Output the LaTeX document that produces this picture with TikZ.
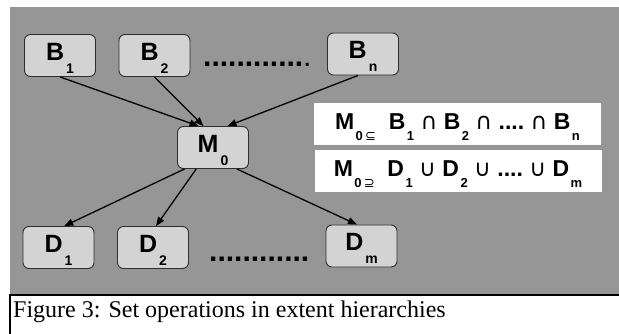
\documentclass[tikz,border=0pt]{standalone}
\usepackage{fontspec}
\setmainfont{Liberation Serif}
\setsansfont{Liberation Sans}
\newfontfamily\symfont{DejaVu Sans}
\usetikzlibrary{arrows.meta}
\definecolor{cpanel}{HTML}{969696}
\definecolor{cbox}{HTML}{D3D3D3}
\definecolor{cedge}{HTML}{2E2E2E}
\newcommand\lowsub[1]{\kern2pt\raisebox{-13pt}{\fontsize{14}{14}\selectfont #1}}
\newcommand\fsub[1]{\kern1.5pt\raisebox{-10.5pt}{\fontsize{13}{13}\selectfont #1}}
\newcommand\symop[1]{{\symfont\mdseries #1}}
\tikzset{
  every picture/.style={font=\sffamily\bfseries},
  set/.style={draw=cedge, fill=cbox, rounded corners=6pt, line width=0.9pt, minimum width=71pt, minimum height=42pt, inner sep=0pt, text height=18pt, text depth=8pt, font=\sffamily\bfseries\fontsize{25}{25}\selectfont},
  rel/.style={fill=white, minimum width=287pt, minimum height=42pt, inner sep=0pt, text height=16.5pt, text depth=4.5pt, font=\sffamily\bfseries\fontsize{23}{23}\selectfont},
  arrow/.style={-{Triangle[length=9pt,width=7pt]}, line width=1.3pt},
  dots/.style={font=\sffamily\bfseries\fontsize{30}{30}\selectfont, inner sep=0pt},
}

\begin{document}
\begin{tikzpicture}[x=1pt, y=-1pt]
  \useasboundingbox (0,0) rectangle (619,334);
  \fill[cpanel] (10,7) rectangle (619,295);
  % base extents, the merged extent and the derived extents
  \node[set] (B1) at (60,55.5) {B\lowsub{1}};
  \node[set] (B2) at (154.5,55.5) {B\lowsub{2}};
  \node[set] (Bn) at (363,54) {B\lowsub{n}};
  \node[dots, anchor=base west] (bdots) at (203,67) {............{\mdseries .}};
  \node[set] (M0) at (213,147.5) {M\lowsub{0}};
  \node[set] (D1) at (58.5,247.5) {D\lowsub{1}};
  \node[set] (D2) at (153,247.5) {D\lowsub{2}};
  \node[set] (Dm) at (361.5,246) {D\lowsub{m}};
  \node[dots, anchor=base west] (ddots) at (209,261) {............};
  \draw[arrow] (B1.south) -- (M0.124);
  \draw[arrow] (B2.south) -- (M0.114);
  \draw[arrow] (Bn.257) -- (M0.56);
  \draw[arrow] (M0.217) -- (D1.75);
  \draw[arrow] (M0.232) -- (D2.82);
  \draw[arrow] (M0.318) -- (Dm.102);
  % set relations
  \node[rel] (inter) at (457.5,124) {M\fsub{0\,\symop{⊆}}\ \ B\fsub{1}\ \symop{∩}\ B\fsub{2}\ \symop{∩}\ ....\ \symop{∩}\ B\fsub{n}};
  \node[rel] (union) at (458,171) {M\fsub{0\,\symop{⊇}}\ \ D\fsub{1}\ \symop{∪}\ D\fsub{2}\ \symop{∪}\ ....\ \symop{∪}\ D\fsub{m}};
  % caption
  \draw[line width=1.2pt] (10,334) -- (10,295) -- (619,295);
  \node[anchor=base west, inner sep=0pt, font=\rmfamily\mdseries\fontsize{24}{24}\selectfont] (cap) at (13,317) {Figure 3: Set operations in extent hierarchies};
\end{tikzpicture}
\end{document}
